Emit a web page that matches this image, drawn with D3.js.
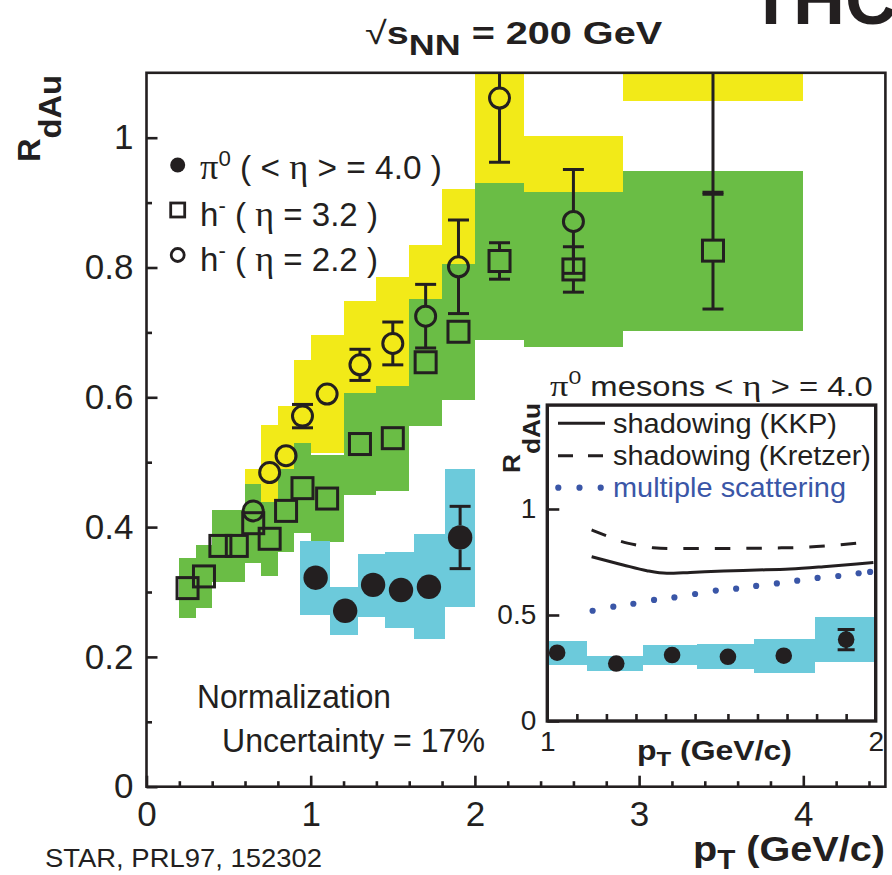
<!DOCTYPE html>
<html>
<head>
<meta charset="utf-8">
<script src="https://cdn.jsdelivr.net/npm/d3@7"></script>
<style>
  body { margin: 0; background: #fff; }
  svg { display: block; }
  text { font-family: "Liberation Sans", Arial, Helvetica, sans-serif; fill: #231f20; }
</style>
</head>
<body>
<svg id="chart" width="892" height="875"></svg>
<script>
// ---------- data ----------
// h- at eta = 3.2 (open squares, green systematic boxes)
const sqPt    = [0.25, 0.35, 0.45, 0.55, 0.65, 0.75, 0.85, 0.95, 1.1, 1.3, 1.5, 1.7, 1.9, 2.15, 2.6, 3.45];
const sqR     = [0.306, 0.324, 0.371, 0.371, 0.406, 0.382, 0.425, 0.460, 0.444, 0.528, 0.537, 0.654, 0.701, 0.810, 0.797, 0.826];
const sqErr   = [0, 0, 0, 0, 0, 0, 0, 0, 0, 0, 0, 0, 0, 0.028, 0.035, 0.090];
const sqBinLo = [0.2, 0.3, 0.4, 0.5, 0.6, 0.7, 0.8, 0.9, 1.0, 1.2, 1.4, 1.6, 1.8, 2.0, 2.3, 2.9];
const sqBinHi = [0.3, 0.4, 0.5, 0.6, 0.7, 0.8, 0.9, 1.0, 1.2, 1.4, 1.6, 1.8, 2.0, 2.3, 2.9, 4.0];
const sqSysLo = [0.260, 0.275, 0.315, 0.315, 0.345, 0.325, 0.361, 0.391, 0.377, 0.449, 0.456, 0.556, 0.596, 0.688, 0.677, 0.702];
const sqSysHi = [0.352, 0.373, 0.427, 0.427, 0.467, 0.439, 0.489, 0.529, 0.511, 0.607, 0.618, 0.752, 0.806, 0.930, 0.917, 0.949];

// h- at eta = 2.2 (open circles, yellow systematic boxes)
const ciPt    = [0.65, 0.75, 0.85, 0.95, 1.1, 1.3, 1.5, 1.7, 1.9, 2.15, 2.6, 3.45];
const ciR     = [0.425, 0.484, 0.510, 0.571, 0.605, 0.650, 0.683, 0.725, 0.801, 1.061, 0.871, 1.25];
const ciErr   = [0, 0, 0, 0.018, 0, 0.024, 0.033, 0.049, 0.072, 0.099, 0.080, 0.337];
const ciBinLo = [0.6, 0.7, 0.8, 0.9, 1.0, 1.2, 1.4, 1.6, 1.8, 2.0, 2.3, 2.9];
const ciBinHi = [0.7, 0.8, 0.9, 1.0, 1.2, 1.4, 1.6, 1.8, 2.0, 2.3, 2.9, 4.0];
const ciSysLo = [0.361, 0.411, 0.434, 0.485, 0.514, 0.553, 0.581, 0.616, 0.681, 0.902, 0.740, 1.056];
const ciSysHi = [0.489, 0.557, 0.587, 0.657, 0.696, 0.748, 0.785, 0.834, 0.921, 1.220, 1.002, 1.440];

// pi0 at <eta> = 4.0 (filled circles, cyan systematic boxes)
const piPt    = [1.03, 1.21, 1.38, 1.55, 1.72, 1.91];
const piR     = [0.322, 0.271, 0.311, 0.303, 0.308, 0.384];
const piErr   = [0, 0, 0, 0, 0, 0.048];
const piBinLo = [0.935, 1.12, 1.29, 1.455, 1.63, 1.815];
const piBinHi = [1.12, 1.29, 1.455, 1.63, 1.815, 2.0];
const piSysLo = [0.265, 0.234, 0.262, 0.245, 0.227, 0.277];
const piSysHi = [0.378, 0.308, 0.359, 0.361, 0.389, 0.489];

// model curves for the inset
const kkpPt     = [1.135, 1.231, 1.303, 1.364, 1.435, 1.537, 1.638, 1.739, 1.841, 1.942, 1.993];
const kkpR      = [0.775, 0.736, 0.709, 0.697, 0.701, 0.708, 0.712, 0.717, 0.728, 0.741, 0.748];
const kretzerPt = [1.135, 1.181, 1.227, 1.272, 1.323, 1.374, 1.475, 1.577, 1.678, 1.780, 1.881, 1.983];
const kretzerR  = [0.901, 0.873, 0.846, 0.830, 0.817, 0.813, 0.814, 0.814, 0.816, 0.819, 0.830, 0.846];
const msPt      = [1.138, 1.201, 1.262, 1.325, 1.387, 1.450, 1.513, 1.575, 1.636, 1.699, 1.761, 1.823, 1.886, 1.948, 1.983];
const msR       = [0.520, 0.539, 0.553, 0.571, 0.583, 0.599, 0.615, 0.624, 0.637, 0.649, 0.662, 0.675, 0.684, 0.697, 0.703];

// axis ticks
const xMajor       = [0, 1, 2, 3, 4];
const xMajorLabels = ["0", "1", "2", "3", "4"];
const xMinor       = [0.2, 0.4, 0.6, 0.8, 1.2, 1.4, 1.6, 1.8, 2.2, 2.4, 2.6, 2.8, 3.2, 3.4, 3.6, 3.8, 4.2, 4.4];
const yMajor       = [0, 0.2, 0.4, 0.6, 0.8, 1.0];
const yMajorLabels = ["0", "0.2", "0.4", "0.6", "0.8", "1"];
const yMinor       = [0.1, 0.3, 0.5, 0.7, 0.9];
const inYMajor       = [0, 0.5, 1];
const inYMajorLabels = ["0", "0.5", "1"];
const inXLabels      = [1, 2];
const inXMinor       = [1.09, 1.18, 1.27, 1.36, 1.45, 1.55, 1.64, 1.73, 1.82, 1.91];

// ---------- styling ----------
const INK = "#231f20";
const YELLOW = "#f2ea18";
const GREEN = "#6abd45";
const CYAN = "#6ccadb";
const BLUE = "#3a56a7";
const SERIF = "'Liberation Serif', 'Times New Roman', serif";

const svg = d3.select("#chart");
const defs = svg.append("defs");

// ---------- scales ----------
const x = d3.scaleLinear().domain([0, 4.5]).range([146.5, 885.4]);
const y = d3.scaleLinear().domain([0, 1.1]).range([786.7, 72.8]);

const ix = d3.scaleLinear().domain([1, 2]).range([547.3, 875.7]);
const iy = d3.scaleLinear().domain([0, 1.49]).range([721, 405.1]);

defs.append("clipPath").attr("id", "mainClip").append("rect")
  .attr("x", x(0)).attr("y", y(1.1))
  .attr("width", x(4.5) - x(0)).attr("height", y(0) - y(1.1));
defs.append("clipPath").attr("id", "insetClip").append("rect")
  .attr("x", ix(1)).attr("y", iy(1.49))
  .attr("width", ix(2) - ix(1)).attr("height", iy(0) - iy(1.49));

// ---------- helpers ----------
function sysBoxes(g, lo, hi, sLo, sHi, color, xs, ys) {
  g.append("g").attr("shape-rendering", "crispEdges")
    .selectAll("rect").data(d3.range(lo.length)).join("rect")
    .attr("x", i => xs(lo[i]))
    .attr("width", i => xs(hi[i]) - xs(lo[i]))
    .attr("y", i => ys(sHi[i]))
    .attr("height", i => ys(sLo[i]) - ys(sHi[i]))
    .attr("fill", color);
}

// error bars drawn outside the marker, with horizontal caps
function errorBars(g, pts, vals, errs, gap, capW, xs, ys, sw) {
  const idx = d3.range(pts.length).filter(i => errs[i] > 0);
  const eg = g.append("g").attr("stroke", INK).attr("stroke-width", sw).attr("fill", "none");
  idx.forEach(i => {
    const cx = xs(pts[i]), cy = ys(vals[i]);
    const top = ys(vals[i] + errs[i]), bot = ys(vals[i] - errs[i]);
    if (top < cy - gap) eg.append("line").attr("x1", cx).attr("x2", cx).attr("y1", top).attr("y2", cy - gap);
    if (bot > cy + gap) eg.append("line").attr("x1", cx).attr("x2", cx).attr("y1", cy + gap).attr("y2", bot);
    [top, bot].forEach(yy => eg.append("line")
      .attr("x1", cx - capW / 2).attr("x2", cx + capW / 2).attr("y1", yy).attr("y2", yy));
  });
}

// text made of styled runs; optionally stretched to a given width
function label(parent, x0, y0, runs, opts = {}) {
  const g = parent.append("g");
  const t = g.append("text").attr("x", 0).attr("y", 0);
  runs.forEach(r => {
    const s = t.append("tspan").text(r.t);
    if (r.size) s.attr("font-size", r.size);
    if (r.weight) s.attr("font-weight", r.weight);
    if (r.family) s.style("font-family", r.family);
    if (r.dy) s.attr("dy", r.dy);
    if (r.fill) s.style("fill", r.fill);
  });
  let sx = 1;
  if (opts.width) {
    const w = t.node().getBBox().width;
    sx = opts.width / w;
  }
  const rot = opts.rotate ? ` rotate(${opts.rotate})` : "";
  g.attr("transform", `translate(${x0},${y0})${rot} scale(${sx},1)`);
  return g;
}

// ---------- main panel ----------
const plot = svg.append("g").attr("clip-path", "url(#mainClip)");

sysBoxes(plot, ciBinLo, ciBinHi, ciSysLo, ciSysHi, YELLOW, x, y);
sysBoxes(plot, sqBinLo, sqBinHi, sqSysLo, sqSysHi, GREEN, x, y);
sysBoxes(plot, piBinLo, piBinHi, piSysLo, piSysHi, CYAN, x, y);

const R_CI = 10, SQ = 21, R_PI = 12.2;

errorBars(plot, ciPt, ciR, ciErr, R_CI, 21, x, y, 3);
errorBars(plot, sqPt, sqR, sqErr, SQ / 2, 21, x, y, 3);
errorBars(plot, piPt, piR, piErr, R_PI, 21, x, y, 3);

plot.append("g").selectAll("rect").data(d3.range(sqPt.length)).join("rect")
  .attr("x", i => x(sqPt[i]) - SQ / 2).attr("y", i => y(sqR[i]) - SQ / 2)
  .attr("width", SQ).attr("height", SQ)
  .attr("fill", "none").attr("stroke", INK).attr("stroke-width", 3);

plot.append("g").selectAll("circle").data(d3.range(ciPt.length)).join("circle")
  .attr("cx", i => x(ciPt[i])).attr("cy", i => y(ciR[i])).attr("r", R_CI)
  .attr("fill", "none").attr("stroke", INK).attr("stroke-width", 3);

plot.append("g").selectAll("circle").data(d3.range(piPt.length)).join("circle")
  .attr("cx", i => x(piPt[i])).attr("cy", i => y(piR[i])).attr("r", R_PI)
  .attr("fill", INK);

// axes (ticks point inward)
function styleAxis(g, size) {
  g.select(".domain").remove();
  g.selectAll(".tick line").attr("stroke", INK).attr("stroke-width", 2.6);
  g.selectAll(".tick text").attr("font-size", size)
    .style("font-family", "'Liberation Sans', Arial, sans-serif").style("fill", INK);
}
svg.append("g").attr("transform", `translate(0,${y(0)})`)
  .call(d3.axisBottom(x).tickValues(xMajor).tickSize(-11).tickPadding(14)
    .tickFormat((d, i) => xMajorLabels[i]))
  .call(g => styleAxis(g, 35));
svg.append("g").attr("transform", `translate(0,${y(0)})`)
  .call(d3.axisBottom(x).tickValues(xMinor).tickSize(-5.5).tickFormat(""))
  .call(g => styleAxis(g, 0));
svg.append("g").attr("transform", `translate(${x(0)},0)`)
  .call(d3.axisLeft(y).tickValues(yMajor).tickSize(-11).tickPadding(13)
    .tickFormat((d, i) => yMajorLabels[i]))
  .call(g => styleAxis(g, 35));
svg.append("g").attr("transform", `translate(${x(0)},0)`)
  .call(d3.axisLeft(y).tickValues(yMinor).tickSize(-5.5).tickFormat(""))
  .call(g => styleAxis(g, 0));

svg.append("rect")
  .attr("x", x(0)).attr("y", y(1.1))
  .attr("width", x(4.5) - x(0)).attr("height", y(0) - y(1.1))
  .attr("fill", "none").attr("stroke", INK).attr("stroke-width", 2.6);

// legend of the main panel
const leg = svg.append("g");
leg.append("circle").attr("cx", 177.7).attr("cy", 165).attr("r", 7.5).attr("fill", INK);
leg.append("rect").attr("x", 170.7).attr("y", 203).attr("width", 14).attr("height", 14)
  .attr("fill", "none").attr("stroke", INK).attr("stroke-width", 2.8);
leg.append("circle").attr("cx", 177.7).attr("cy", 255).attr("r", 6.5)
  .attr("fill", "none").attr("stroke", INK).attr("stroke-width", 2.8);

label(leg, 200, 179, [
  { t: "π", family: SERIF, size: 36 },
  { t: "0", size: 22, dy: -13 },
  { t: " ( < ", size: 33, dy: 13 },
  { t: "η", family: SERIF, size: 36 },
  { t: " > = 4.0 )", size: 33 }
], { width: 242 });
label(leg, 200, 226, [
  { t: "h", size: 33 },
  { t: "-", size: 22, dy: -13 },
  { t: " ( ", size: 33, dy: 13 },
  { t: "η", family: SERIF, size: 36 },
  { t: " = 3.2 )", size: 33 }
], { width: 178 });
label(leg, 200, 271, [
  { t: "h", size: 33 },
  { t: "-", size: 22, dy: -13 },
  { t: " ( ", size: 33, dy: 13 },
  { t: "η", family: SERIF, size: 36 },
  { t: " = 2.2 )", size: 33 }
], { width: 178 });

// annotations
label(svg, 197, 708, [{ t: "Normalization", size: 33 }], { width: 194 });
label(svg, 222, 752, [{ t: "Uncertainty = 17%", size: 33 }], { width: 263 });
label(svg, 45, 867, [{ t: "STAR, PRL97, 152302", size: 26 }], { width: 277 });

// titles
label(svg, 365, 44, [
  { t: "√", size: 32 },
  { t: "s", size: 32, weight: "bold" },
  { t: "NN", size: 29, weight: "bold", dy: 11 },
  { t: " = 200 GeV", size: 32, weight: "bold", dy: -11 }
], { width: 298 });
label(svg, 693, 861, [
  { t: "p", size: 36, weight: "bold" },
  { t: "T", size: 27, weight: "bold", dy: 8 },
  { t: " (GeV/c)", size: 36, weight: "bold", dy: -8 }
], { width: 192 });
label(svg, 40, 162, [
  { t: "R", size: 31, weight: "bold" },
  { t: "dAu", size: 31, weight: "bold", dy: 21 }
], { rotate: -90, width: 87 });

// heading text running off the top edge
label(svg, 749, 24, [{ t: "THC", size: 72, weight: "bold" }]);

// ---------- inset ----------
const inset = svg.append("g");
inset.append("rect")
  .attr("x", ix(1)).attr("y", iy(1.49))
  .attr("width", ix(2) - ix(1)).attr("height", iy(0) - iy(1.49))
  .attr("fill", "#fff");

const ip = inset.append("g").attr("clip-path", "url(#insetClip)");
sysBoxes(ip, piBinLo, piBinHi, piSysLo, piSysHi, CYAN, ix, iy);

const lineGen = d3.line().curve(d3.curveMonotoneX);
ip.append("path")
  .attr("d", lineGen(kretzerPt.map((p, i) => [ix(p), iy(kretzerR[i])])))
  .attr("fill", "none").attr("stroke", INK).attr("stroke-width", 3)
  .attr("stroke-dasharray", "15.5,16");
ip.append("path")
  .attr("d", lineGen(kkpPt.map((p, i) => [ix(p), iy(kkpR[i])])))
  .attr("fill", "none").attr("stroke", INK).attr("stroke-width", 3);
ip.append("g").selectAll("circle").data(d3.range(msPt.length)).join("circle")
  .attr("cx", i => ix(msPt[i])).attr("cy", i => iy(msR[i])).attr("r", 3.1)
  .attr("fill", BLUE);

errorBars(ip, piPt, piR, piErr, 0, 17, ix, iy, 3);
ip.append("g").selectAll("circle").data(d3.range(piPt.length)).join("circle")
  .attr("cx", i => ix(piPt[i])).attr("cy", i => iy(piR[i])).attr("r", 8.3)
  .attr("fill", INK);

// inset axes
inset.append("g").attr("transform", `translate(0,${iy(0)})`)
  .call(d3.axisBottom(ix).tickValues(inXMinor).tickSize(-7).tickFormat(""))
  .call(g => styleAxis(g, 0));
inset.append("g").attr("transform", `translate(0,${iy(0)})`)
  .call(d3.axisBottom(ix).tickValues(inXLabels).tickSize(0).tickPadding(10)
    .tickFormat(d3.format("d")))
  .call(g => styleAxis(g, 28));
inset.append("g").attr("transform", `translate(${ix(1)},0)`)
  .call(d3.axisLeft(iy).tickValues(inYMajor).tickSize(-12).tickPadding(11)
    .tickFormat((d, i) => inYMajorLabels[i]))
  .call(g => styleAxis(g, 28));
inset.append("rect")
  .attr("x", ix(1)).attr("y", iy(1.49))
  .attr("width", ix(2) - ix(1)).attr("height", iy(0) - iy(1.49))
  .attr("fill", "none").attr("stroke", INK).attr("stroke-width", 3.4);

// inset legend
const il = inset.append("g");
il.append("line").attr("x1", 558).attr("x2", 605).attr("y1", 423.3).attr("y2", 423.3)
  .attr("stroke", INK).attr("stroke-width", 3);
il.append("line").attr("x1", 558).attr("x2", 605).attr("y1", 455.7).attr("y2", 455.7)
  .attr("stroke", INK).attr("stroke-width", 3).attr("stroke-dasharray", "15,15");
il.append("g").selectAll("circle").data([558.3, 579.5, 600.7]).join("circle")
  .attr("cx", d => d).attr("cy", 487.7).attr("r", 3.1).attr("fill", BLUE);
label(il, 613, 432.8, [{ t: "shadowing (KKP)", size: 27 }], { width: 224 });
label(il, 613, 465.2, [{ t: "shadowing (Kretzer)", size: 27 }], { width: 258 });
label(il, 613, 497.2, [{ t: "multiple scattering", size: 27, fill: BLUE }], { width: 233 });

// inset titles
label(inset, 550, 396, [
  { t: "π", family: SERIF, size: 30 },
  { t: "0", size: 19, dy: -12 },
  { t: " mesons < ", size: 27, dy: 12 },
  { t: "η", family: SERIF, size: 30 },
  { t: " > = 4.0", size: 27 }
], { width: 323 });
label(inset, 637, 760, [
  { t: "p", size: 28, weight: "bold" },
  { t: "T", size: 21, weight: "bold", dy: 6 },
  { t: " (GeV/c)", size: 28, weight: "bold", dy: -6 }
], { width: 155 });
label(inset, 520, 473, [
  { t: "R", size: 24, weight: "bold" },
  { t: "dAu", size: 24, weight: "bold", dy: 20 }
], { rotate: -90, width: 70 });
</script>
</body>
</html>
